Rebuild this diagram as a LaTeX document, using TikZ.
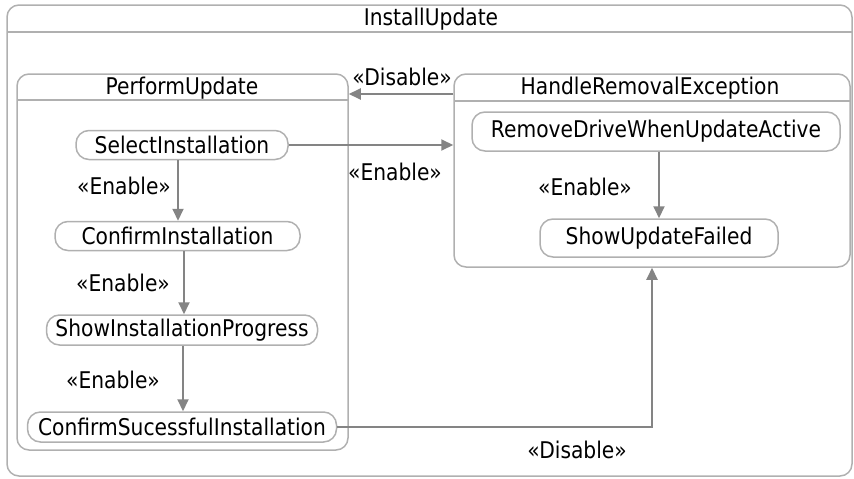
\documentclass[tikz,border=0pt]{standalone}
\usepackage{fontspec}
\setmainfont{DejaVu Sans}[FakeStretch=0.88]
\usetikzlibrary{arrows.meta}
\definecolor{boxgray}{HTML}{B0B0B0}
\definecolor{arrgray}{HTML}{848484}
\begin{document}
\begin{tikzpicture}[x=1pt,y=-1pt,
  container/.style={draw=boxgray, line width=1.5pt, rounded corners=12pt, inner sep=0pt},
  header/.style={draw=boxgray, line width=1.5pt},
  txt/.style={font=\fontsize{23}{26}\selectfont, inner sep=0pt},
  state/.style={draw=boxgray, line width=1.5pt, rounded corners=13pt, inner sep=0pt, font=\fontsize{23}{26}\selectfont},
  flow/.style={draw=arrgray, line width=2pt, -{Triangle[length=12pt,width=11pt]}}]
\useasboundingbox (0,0) rectangle (854,479);
% containers
\node[container, minimum width=845pt, minimum height=471pt] (iu) at (429.5,240.5) {};
\draw[header] (7,32) -- (852,32);
\node[txt] (iut) at (431,19) {InstallUpdate};
\node[container, minimum width=331pt, minimum height=376pt] (pu) at (182.5,262) {};
\draw[header] (17,100) -- (348,100);
\node[txt] (put) at (182,88) {PerformUpdate};
\node[container, minimum width=396pt, minimum height=193pt] (hre) at (652,170.5) {};
\draw[header] (454,101) -- (850,101);
\node[txt] (hret) at (650,88) {HandleRemovalException};
% states
\node[state, minimum width=212pt, minimum height=29pt] (si) at (182,145) {SelectInstallation};
\node[state, minimum width=245pt, minimum height=29pt] (ci) at (177.5,236) {ConfirmInstallation};
\node[state, minimum width=271pt, minimum height=30pt] (sip) at (182,330) {ShowInstallationProgress};
\node[state, minimum width=309pt, minimum height=30pt] (csi) at (182,427) {ConfirmSucessfulInstallation};
\node[state, minimum width=368pt, minimum height=39pt] (rd) at (656,131.5) {RemoveDriveWhenUpdateActive};
\node[state, minimum width=238pt, minimum height=38pt] (suf) at (659,238) {ShowUpdateFailed};
% helper coordinates
\coordinate (a1) at (178,0);
\coordinate (a2) at (184,0);
\coordinate (a3) at (183,0);
\coordinate (a4) at (659,0);
\coordinate (a5) at (0,94);
\coordinate (a6) at (652,0);
% connectors
\draw[flow] (a1 |- si.south) -- (a1 |- ci.north);
\draw[flow] (a2 |- ci.south) -- (a2 |- sip.north);
\draw[flow] (a3 |- sip.south) -- (a3 |- csi.north);
\draw[flow] (a4 |- rd.south) -- (a4 |- suf.north);
\draw[flow] (si.east) -- (hre.west |- si.east);
\draw[flow] (hre.west |- a5) -- (pu.east |- a5);
\draw[flow] (csi.east) -| (a6 |- hre.south);
% labels
\node[txt] (l1) at (124,186) {«Enable»};
\node[txt] (l2) at (123,283) {«Enable»};
\node[txt] (l3) at (113,380) {«Enable»};
\node[txt] (l4) at (402,77) {«Disable»};
\node[txt] (l5) at (395,172) {«Enable»};
\node[txt] (l6) at (585,187) {«Enable»};
\node[txt] (l7) at (577,450) {«Disable»};
\end{tikzpicture}
\end{document}
